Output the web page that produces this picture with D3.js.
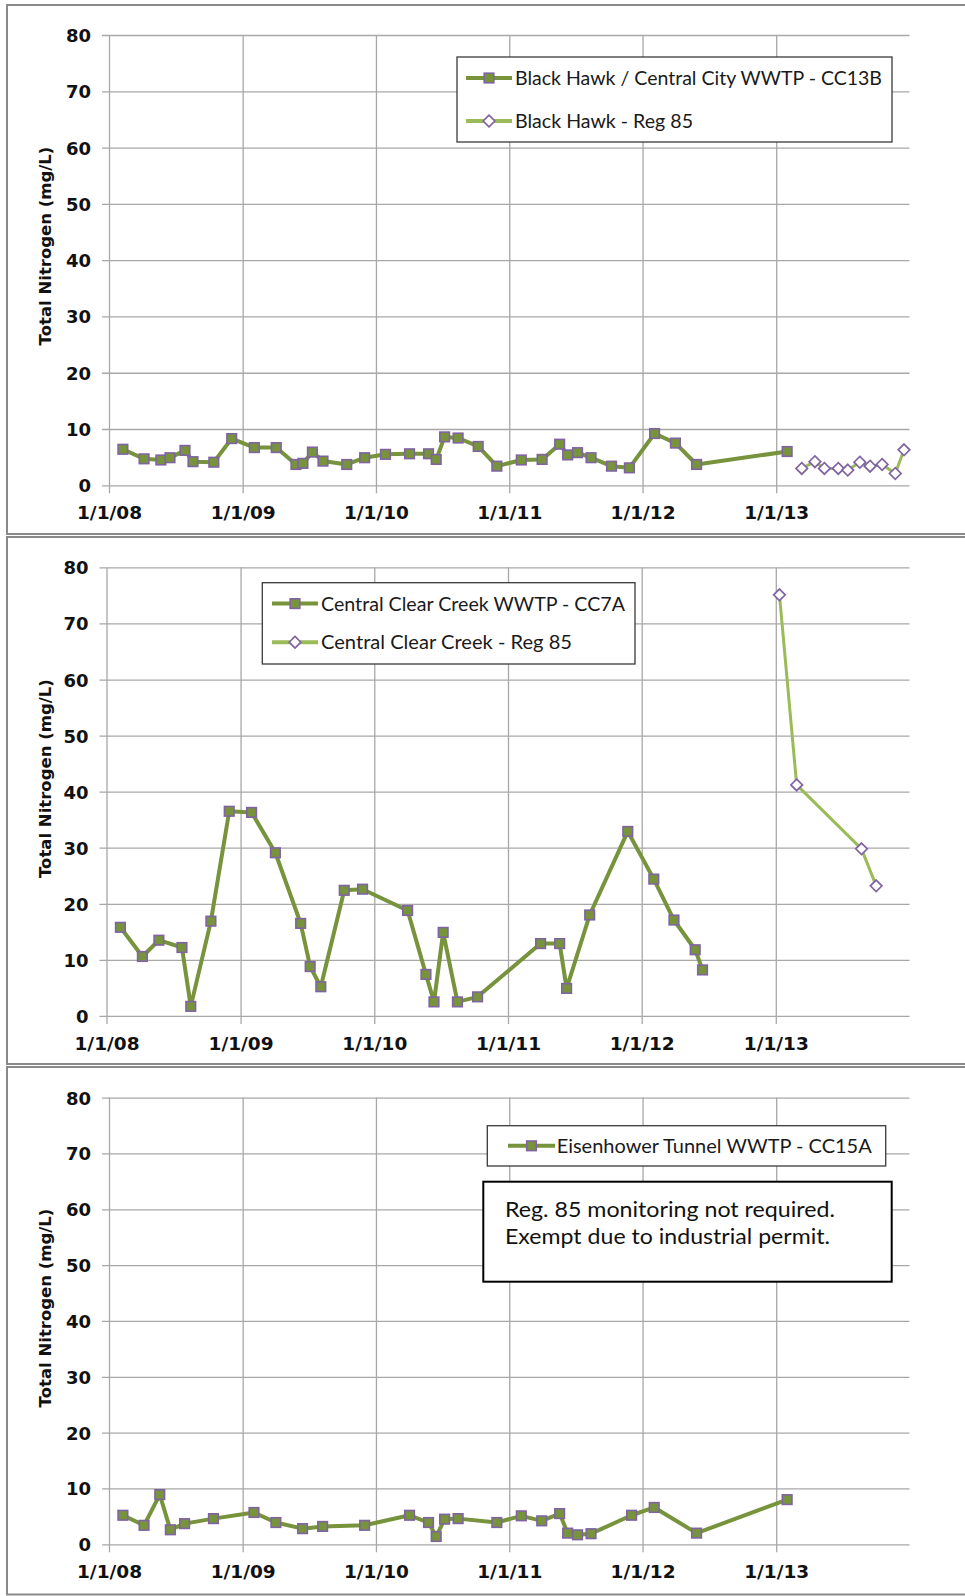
<!DOCTYPE html>
<html><head><meta charset="utf-8">
<script src="https://cdn.jsdelivr.net/npm/d3@7"></script>
<style>body{margin:0;background:#fff;} svg{display:block;}</style>
</head><body>
<svg id="chart" width="965" height="1596"></svg>
<script>
// ---------- DATA ----------
const yTickValues = [0, 10, 20, 30, 40, 50, 60, 70, 80];
const xTickDates = ["2008-01-01", "2009-01-01", "2010-01-01", "2011-01-01", "2012-01-01", "2013-01-01"];
const xTickLabels = ["1/1/08", "1/1/09", "1/1/10", "1/1/11", "1/1/12", "1/1/13"];
const xDomain = ["2008-01-01", "2014-01-01"];
const yTitle = "Total Nitrogen (mg/L)";

// Panel 1: Black Hawk / Central City WWTP - CC13B
const cc13bDates = ["2008-02-08","2008-04-06","2008-05-22","2008-06-16","2008-07-27","2008-08-18","2008-10-14","2008-12-02",
  "2009-02-02","2009-04-03","2009-05-27","2009-06-15","2009-07-11","2009-08-09","2009-10-13","2009-12-01",
  "2010-01-27","2010-04-03","2010-05-25","2010-06-15","2010-07-08","2010-08-14","2010-10-08","2010-11-28",
  "2011-02-03","2011-04-01","2011-05-19","2011-06-10","2011-07-07","2011-08-13","2011-10-08","2011-11-26",
  "2012-02-03","2012-03-31","2012-05-28","2013-01-31"];
const cc13bValues = [6.4,4.7,4.5,4.9,6.2,4.2,4.1,8.3,
  6.7,6.7,3.7,3.9,5.9,4.3,3.7,4.9,
  5.5,5.6,5.6,4.6,8.6,8.4,6.9,3.4,
  4.5,4.6,7.3,5.4,5.8,4.9,3.4,3.1,
  9.2,7.5,3.7,6.0];
const bhReg85Dates = ["2013-03-12","2013-04-17","2013-05-13","2013-06-20","2013-07-16","2013-08-18","2013-09-15","2013-10-18","2013-11-23","2013-12-17"];
const bhReg85Values = [3.0,4.2,3.0,3.0,2.7,4.1,3.4,3.7,2.1,6.3];

// Panel 2: Central Clear Creek WWTP - CC7A
const cc7aDates = ["2008-02-08","2008-04-08","2008-05-23","2008-07-25","2008-08-18","2008-10-12","2008-12-01",
  "2009-01-31","2009-04-06","2009-06-14","2009-07-10","2009-08-08","2009-10-11","2009-11-30",
  "2010-04-02","2010-05-22","2010-06-13","2010-07-08","2010-08-16","2010-10-10",
  "2011-03-31","2011-05-22","2011-06-10","2011-08-12","2011-11-24",
  "2012-02-03","2012-03-29","2012-05-26","2012-06-15"];
const cc7aValues = [15.8,10.6,13.5,12.2,1.7,16.9,36.5,
  36.3,29.1,16.5,8.8,5.2,22.4,22.6,
  18.8,7.4,2.5,14.9,2.5,3.4,
  12.9,12.9,4.9,18.0,32.9,
  24.4,17.1,11.8,8.2];
const ccReg85Dates = ["2013-01-11","2013-02-27","2013-08-23","2013-10-02"];
const ccReg85Values = [75.1,41.2,29.8,23.2];

// Panel 3: Eisenhower Tunnel WWTP - CC15A
const cc15aDates = ["2008-02-08","2008-04-06","2008-05-19","2008-06-17","2008-07-26","2008-10-13",
  "2009-02-01","2009-04-02","2009-06-14","2009-08-08","2009-12-01",
  "2010-04-03","2010-05-25","2010-06-15","2010-07-08","2010-08-14","2010-11-28",
  "2011-02-03","2011-03-31","2011-05-19","2011-06-10","2011-07-07","2011-08-13","2011-12-02",
  "2012-02-02","2012-05-28","2013-01-31"];
const cc15aValues = [5.2,3.4,8.9,2.6,3.7,4.6,
  5.7,3.9,2.8,3.2,3.4,
  5.2,3.9,1.4,4.5,4.6,3.9,
  5.1,4.2,5.5,2.0,1.7,1.9,5.2,
  6.6,2.0,8.0];

const legendLabels1 = ["Black Hawk / Central City WWTP - CC13B", "Black Hawk - Reg 85"];
const legendLabels2 = ["Central Clear Creek WWTP - CC7A", "Central Clear Creek - Reg 85"];
const legendLabels3 = ["Eisenhower Tunnel WWTP - CC15A"];
const noteLines = ["Reg. 85 monitoring not required.", "Exempt due to industrial permit."];

// ---------- STYLE ----------
const styles = {
  main: {line: "#77933C", lw: 4, fill: "#77933C", stroke: "#8064A2", shape: "square"},
  reg:  {line: "#9BBB59", lw: 3, fill: "#ffffff", stroke: "#8064A2", shape: "diamond"}
};
const parse = d3.timeParse("%Y-%m-%d");
const svg = d3.select("#chart");
const tickFont = "'DejaVu Sans', Verdana, sans-serif";
const textFont = "Lato, 'Open Sans', sans-serif";

const panels = [
  {top: 5, bottom: 534, x0: 109, x1: 909.5, y80: 35, y0: 485.3, titleCY: 246,
   series: [{dates: cc13bDates, values: cc13bValues, type: "main"}, {dates: bhReg85Dates, values: bhReg85Values, type: "reg"}],
   legend: {x: 457, y: 57, w: 435, h: 85, sx0: 466, sx1: 512, tx: 515,
            rows: [{cy: 78, label: legendLabels1[0], type: "main", tw: 367}, {cy: 121, label: legendLabels1[1], type: "reg", tw: 178}]}},
  {top: 537, bottom: 1064, x0: 106.5, x1: 909.5, y80: 567.4, y0: 1015.9, titleCY: 778.6,
   series: [{dates: cc7aDates, values: cc7aValues, type: "main"}, {dates: ccReg85Dates, values: ccReg85Values, type: "reg"}],
   legend: {x: 262.3, y: 582.7, w: 372.7, h: 81.3, sx0: 272, sx1: 318, tx: 321,
            rows: [{cy: 603.6, label: legendLabels2[0], type: "main", tw: 304}, {cy: 642.2, label: legendLabels2[1], type: "reg", tw: 251}]}},
  {top: 1067, bottom: 1594.5, x0: 109, x1: 909.5, y80: 1097.6, y0: 1544.3, titleCY: 1308,
   series: [{dates: cc15aDates, values: cc15aValues, type: "main"}],
   legend: {x: 487.3, y: 1125.7, w: 398.4, h: 40.3, sx0: 508, sx1: 555, tx: 556.7,
            rows: [{cy: 1145.8, label: legendLabels3[0], type: "main", tw: 315}]},
   note: {x: 483.3, y: 1181.7, w: 408.4, h: 100, tx: 505, lines: [{text: noteLines[0], base: 1217.4, tw: 330}, {text: noteLines[1], base: 1244.3, tw: 325}]}}
];

function marker(g, cx, cy, type) {
  const s = styles[type];
  if (s.shape === "square") {
    g.append("rect").attr("x", cx - 4.8).attr("y", cy - 4.8).attr("width", 9.6).attr("height", 9.6)
      .attr("fill", s.fill).attr("stroke", s.stroke).attr("stroke-width", 1.6);
  } else {
    const r = 5.8;
    g.append("path").attr("d", `M${cx},${cy - r}L${cx + r},${cy}L${cx},${cy + r}L${cx - r},${cy}Z`)
      .attr("fill", s.fill).attr("stroke", s.stroke).attr("stroke-width", 1.7);
  }
}

panels.forEach(p => {
  // panel border
  svg.append("rect").attr("x", 7).attr("y", p.top).attr("width", 1000).attr("height", p.bottom - p.top)
    .attr("fill", "#fff").attr("stroke", "#8a8a8a").attr("stroke-width", 2);

  const x = d3.scaleTime().domain(xDomain.map(parse)).range([p.x0, p.x1]);
  const y = d3.scaleLinear().domain([0, 80]).range([p.y0, p.y80]);
  const h = p.y0 - p.y80, w = p.x1 - p.x0;

  // horizontal grid + y ticks + labels
  const ya = svg.append("g").attr("transform", `translate(${p.x1},0)`)
    .call(d3.axisLeft(y).tickValues(yTickValues).tickSize(w + 7).tickPadding(11).tickFormat(d3.format("d")));
  ya.select(".domain").remove();
  ya.selectAll("line").attr("stroke", "#a8a8a8").attr("stroke-width", 1.3);
  ya.selectAll("text").attr("font-family", tickFont).attr("font-weight", "bold").attr("font-size", 18)
    .attr("fill", "#111").attr("dy", "0.36em");

  // vertical grid + x ticks + labels
  const xa = svg.append("g").attr("transform", `translate(0,${p.y80})`)
    .call(d3.axisBottom(x).tickValues(xTickDates.map(parse)).tickSize(h + 8)
      .tickFormat((d, i) => xTickLabels[i]));
  xa.select(".domain").remove();
  xa.selectAll("line").attr("stroke", "#a8a8a8").attr("stroke-width", 1.3);
  xa.selectAll("text").attr("font-family", tickFont).attr("font-weight", "bold").attr("font-size", 18.5)
    .attr("fill", "#111").attr("y", h + 34).attr("dy", 0);

  // y title
  svg.append("text").attr("transform", `translate(51,${p.titleCY}) rotate(-90)`)
    .attr("text-anchor", "middle").attr("font-family", tickFont).attr("font-weight", "bold")
    .attr("font-size", 16.5).attr("fill", "#111").text(yTitle);

  // series
  p.series.forEach(s => {
    const st = styles[s.type];
    const pts = s.dates.map((d, i) => [x(parse(d)), y(s.values[i])]);
    svg.append("path").attr("d", d3.line()(pts)).attr("fill", "none")
      .attr("stroke", st.line).attr("stroke-width", st.lw).attr("stroke-linejoin", "round");
    const g = svg.append("g");
    pts.forEach(pt => marker(g, pt[0], pt[1], s.type));
  });

  // legend
  const L = p.legend;
  svg.append("rect").attr("x", L.x).attr("y", L.y).attr("width", L.w).attr("height", L.h)
    .attr("fill", "#fff").attr("stroke", "#3a3a3a").attr("stroke-width", 1.3);
  L.rows.forEach(r => {
    const st = styles[r.type];
    svg.append("line").attr("x1", L.sx0).attr("x2", L.sx1).attr("y1", r.cy).attr("y2", r.cy)
      .attr("stroke", st.line).attr("stroke-width", 4);
    marker(svg.append("g"), (L.sx0 + L.sx1) / 2, r.cy, r.type);
    svg.append("text").attr("x", L.tx).attr("y", r.cy + 7).attr("font-family", textFont)
      .attr("font-size", 19.5).attr("fill", "#1a1a1a").attr("textLength", r.tw)
      .attr("lengthAdjust", "spacingAndGlyphs").text(r.label);
  });

  // note box
  if (p.note) {
    const N = p.note;
    svg.append("rect").attr("x", N.x).attr("y", N.y).attr("width", N.w).attr("height", N.h)
      .attr("fill", "#fff").attr("stroke", "#000").attr("stroke-width", 2);
    N.lines.forEach(l => {
      svg.append("text").attr("x", N.tx).attr("y", l.base).attr("font-family", textFont)
        .attr("font-size", 20.5).attr("fill", "#111").attr("textLength", l.tw)
        .attr("lengthAdjust", "spacingAndGlyphs").text(l.text);
    });
  }
});
</script>
</body></html>
